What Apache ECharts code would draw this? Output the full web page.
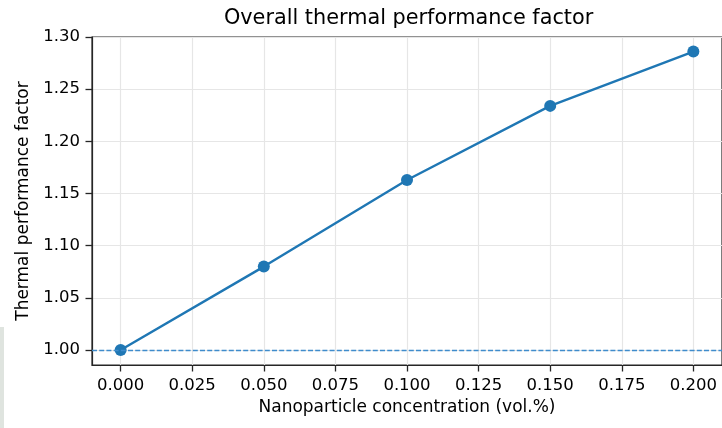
<!DOCTYPE html>
<html>
<head>
<meta charset="utf-8">
<script src="https://cdn.jsdelivr.net/npm/echarts@6/dist/echarts.min.js"></script>
<style>html,body{margin:0;padding:0;background:#fff}#c{width:722px;height:428px}</style>
</head>
<body>
<div id="c"></div>
<script>
const concentration = [0.000, 0.050, 0.100, 0.150, 0.200];
const tpf = [1.000, 1.080, 1.163, 1.234, 1.286];
const baseline = 1.0;
const xTicks = [0, 0.025, 0.05, 0.075, 0.1, 0.125, 0.15, 0.175, 0.2];
const yTicks = [1.00, 1.05, 1.10, 1.15, 1.20, 1.25, 1.30];
const titleText = 'Overall thermal performance factor';
const xName = 'Nanoparticle concentration (vol.%)';
const yName = 'Thermal performance factor';

const font = 'DejaVu Sans';
const chart = echarts.init(document.getElementById('c'), null, {renderer: 'canvas'});
const gridLeft = 92, gridTop = 37, gridRight = -3.5, gridBottom = 63;
const spine = '#262626';

chart.setOption({
  animation: false,
  backgroundColor: '#ffffff',
  textStyle: {fontFamily: font},
  graphic: [
    {type: 'rect', shape: {x: 0, y: 327, width: 4, height: 101}, style: {fill: '#dfe4df'}, silent: true},
    {type: 'text', x: 408.6, y: 19, style: {text: titleText, font: '20.8px "DejaVu Sans"', fill: '#000', align: 'center', verticalAlign: 'middle'}}
  ],
  grid: {left: gridLeft, top: gridTop, right: gridRight, bottom: gridBottom, show: true, borderColor: spine, borderWidth: 1.2, backgroundColor: 'transparent'},
  xAxis: {
    type: 'value', min: -0.01, max: 0.21,
    name: xName, nameLocation: 'middle', nameGap: 32,
    nameTextStyle: {fontSize: 17, color: '#000', fontFamily: font},
    axisLine: {show: true, onZero: false, lineStyle: {color: spine, width: 1.2}},
    axisTick: {show: true, inside: false, length: 6.5, customValues: xTicks, lineStyle: {color: spine, width: 1.3}},
    axisLabel: {customValues: xTicks, margin: 12, fontSize: 16.5, color: '#000', fontFamily: font, formatter: v => v.toFixed(3)},
    splitLine: {show: true, lineStyle: {color: '#e6e6e6', width: 1.2}}
  },
  yAxis: {
    type: 'value', min: 0.9857, max: 1.30,
    name: yName, nameLocation: 'middle', nameGap: 58, nameRotate: 90,
    nameTextStyle: {fontSize: 17, color: '#000', fontFamily: font},
    axisLine: {show: true, onZero: false, lineStyle: {color: spine, width: 1.2}},
    axisTick: {show: true, inside: false, length: 6.5, customValues: yTicks, lineStyle: {color: spine, width: 1.3}},
    axisLabel: {customValues: yTicks, margin: 12, fontSize: 16.5, color: '#000', fontFamily: font, formatter: v => v.toFixed(2)},
    splitLine: {show: true, lineStyle: {color: '#e6e6e6', width: 1.2}}
  },
  series: [
    {
      type: 'line', data: [], z: 1,
      markLine: {
        silent: true, symbol: 'none', label: {show: false},
        lineStyle: {type: [5, 2.2], color: '#3f8ccc', width: 1.3},
        data: [{yAxis: baseline}]
      }
    },
    {
      type: 'line', z: 3,
      data: concentration.map((x, i) => [x, tpf[i]]),
      symbol: 'circle', symbolSize: 12,
      lineStyle: {color: '#1f77b4', width: 2.4},
      itemStyle: {color: '#1f77b4'}
    }
  ]
});
</script>
</body>
</html>
